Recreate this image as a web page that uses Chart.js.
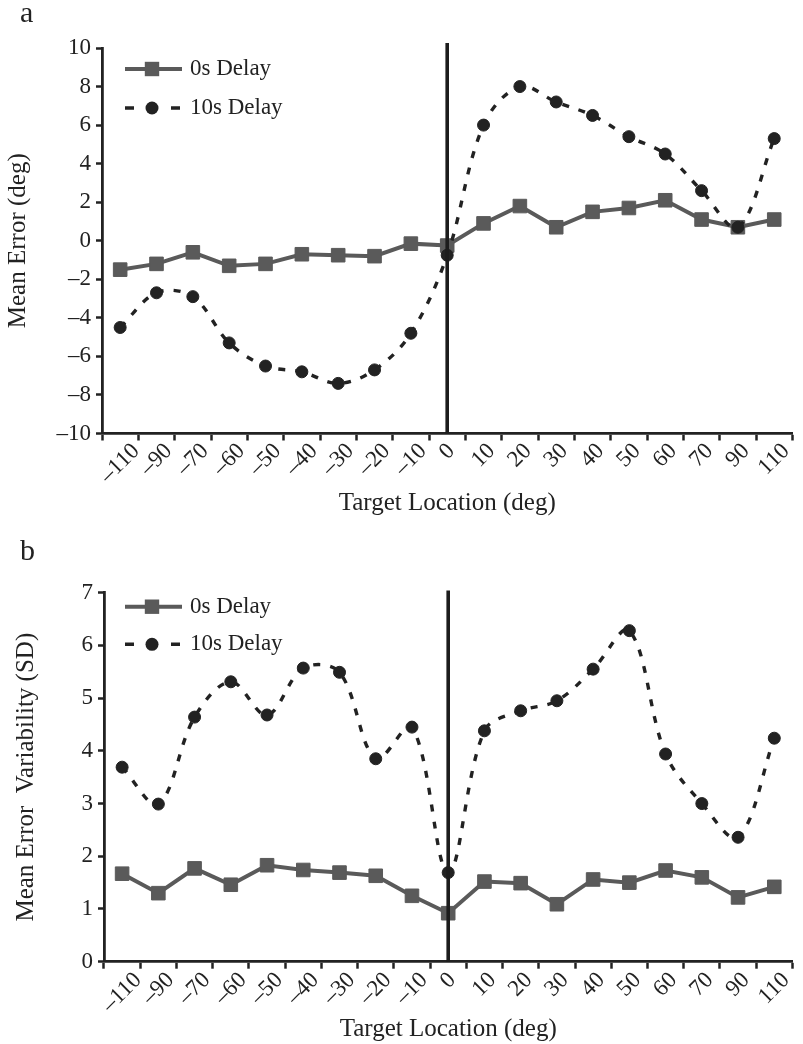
<!DOCTYPE html>
<html><head><meta charset="utf-8">
<script src="https://cdn.jsdelivr.net/npm/chart.js@4.4.1/dist/chart.umd.min.js"></script>
<style>
html,body{margin:0;padding:0;background:#fff;}
#wrap{position:relative;width:803px;height:1044px;overflow:hidden;background:#fff;}
canvas{position:absolute;left:0;}
</style></head>
<body><div id="wrap">
<canvas id="c1" width="803" height="520" style="top:0"></canvas>
<canvas id="c2" width="803" height="524" style="top:520px"></canvas>
</div>
<script>
// ---------- data ----------
const categories = ['–110','–90','–70','–60','–50','–40','–30','–20','–10','0','10','20','30','40','50','60','70','90','110'];
const seriesNames = ['0s Delay', '10s Delay'];
// Panel a: Mean Error (deg)
const errDelay0  = [-1.5, -1.2, -0.6, -1.3, -1.2, -0.7, -0.75, -0.8, -0.15, -0.25, 0.9, 1.8, 0.7, 1.5, 1.7, 2.1, 1.1, 0.7, 1.1];
const errDelay10 = [-4.5, -2.7, -2.9, -5.3, -6.5, -6.8, -7.4, -6.7, -4.8, -0.75, 6.0, 8.0, 7.2, 6.5, 5.4, 4.5, 2.6, 0.7, 5.3];
const errTicks = [-10, -8, -6, -4, -2, 0, 2, 4, 6, 8, 10];
// Panel b: Mean Error Variability (SD)
const sdDelay0  = [1.67, 1.3, 1.77, 1.46, 1.83, 1.74, 1.69, 1.63, 1.25, 0.92, 1.52, 1.49, 1.09, 1.56, 1.5, 1.73, 1.6, 1.22, 1.42];
const sdDelay10 = [3.69, 2.99, 4.64, 5.31, 4.68, 5.57, 5.49, 3.85, 4.45, 1.69, 4.38, 4.76, 4.95, 5.55, 6.28, 3.94, 3.0, 2.36, 4.24];
const sdTicks = [0, 1, 2, 3, 4, 5, 6, 7];
// vertical reference line at target location 0
const refCategory = '0';
const errRefLine = [-10, 10.26];
const sdRefLine = [0, 7.04];

const FONT = '"Liberation Serif", "Times New Roman", serif';
const INK = '#222222';
const GRAY = '#5a5a5a';

function fmt(v){ return v < 0 ? '–' + Math.abs(v) : String(v); }

const panelPlugin = {
  id: 'panelDecor',
  afterDraw(chart, args, o) {
    const ctx = chart.ctx;
    const xs = chart.scales.x;
    const area = chart.chartArea;
    ctx.save();
    // rotated category labels, centered on each category
    ctx.fillStyle = INK;
    ctx.font = '23px ' + FONT;
    ctx.textAlign = 'center';
    ctx.textBaseline = 'middle';
    chart.data.labels.forEach((lab, i) => {
      const x = xs.getPixelForValue(i);
      const w = ctx.measureText(lab).width;
      const y = area.bottom + o.labelGap + w * 0.3536;
      ctx.save();
      ctx.translate(x, y);
      ctx.rotate(-Math.PI / 4);
      ctx.fillText(lab, 0, 0);
      ctx.restore();
    });
    // panel letter
    ctx.font = '30px ' + FONT;
    ctx.textAlign = 'left';
    ctx.textBaseline = 'alphabetic';
    ctx.fillText(o.letter, 20, o.letterY);
    // legend
    const ds0 = chart.data.datasets[2];
    const ds1 = chart.data.datasets[1];
    const y0 = o.legendY[0], y1 = o.legendY[1];
    ctx.setLineDash([]);
    ctx.strokeStyle = ds0.borderColor; ctx.lineWidth = ds0.borderWidth;
    ctx.beginPath(); ctx.moveTo(125, y0); ctx.lineTo(182, y0); ctx.stroke();
    ctx.fillStyle = ds0.pointBackgroundColor;
    ctx.fillRect(152 - 7.2, y0 - 7.2, 14.4, 14.4);
    ctx.strokeStyle = ds1.borderColor; ctx.lineWidth = ds1.borderWidth;
    ctx.beginPath(); ctx.moveTo(125, y1); ctx.lineTo(134, y1); ctx.moveTo(171, y1); ctx.lineTo(180, y1); ctx.stroke();
    ctx.fillStyle = ds1.pointBackgroundColor;
    ctx.beginPath(); ctx.arc(152, y1, 6.5, 0, Math.PI * 2); ctx.fill();
    ctx.fillStyle = INK;
    ctx.font = '23px ' + FONT;
    ctx.textBaseline = 'middle';
    ctx.fillText(ds0.label, 190, y0);
    ctx.fillText(ds1.label, 190, y1);
    ctx.restore();
  }
};

function makeChart(id, c) {
  return new Chart(document.getElementById(id), {
    type: 'line',
    data: {
      labels: categories,
      datasets: [
        { label: 'ref', data: c.ref.map(v => ({ x: refCategory, y: v })), borderColor: '#1c1c1c', borderWidth: 3.6,
          pointRadius: 0, tension: 0, clip: false, fill: false },
        { label: seriesNames[1], data: c.d10, borderColor: INK, borderWidth: 3.4, borderDash: [7, 10],
          pointStyle: 'circle', pointRadius: 6, pointBackgroundColor: INK, pointBorderColor: INK, pointBorderWidth: 1,
          tension: 0.35, fill: false },
        { label: seriesNames[0], data: c.d0, borderColor: GRAY, borderWidth: 4,
          pointStyle: 'rect', pointRadius: 9.6, pointBackgroundColor: GRAY, pointBorderColor: GRAY, pointBorderWidth: 1,
          tension: 0, fill: false }
      ]
    },
    options: {
      responsive: false, animation: false, devicePixelRatio: 1,
      layout: { padding: { top: c.top, left: 0, right: 0, bottom: 0 } },
      plugins: { legend: { display: false }, tooltip: { enabled: false }, panelDecor: c.decor },
      scales: {
        x: {
          type: 'category', offset: true,
          grid: { offset: true, drawOnChartArea: false, drawTicks: true, tickLength: 7, tickWidth: 2.5, tickColor: INK },
          border: { display: true, color: INK, width: 2.8 },
          ticks: { display: false },
          title: { display: true, text: 'Target Location (deg)', color: INK, font: { family: FONT, size: 25 },
                   padding: { top: 0, bottom: c.xTitlePad } },
          afterFit: s => { s.height = c.xH; }
        },
        y: {
          min: c.ticks[0], max: c.ticks[c.ticks.length - 1],
          afterBuildTicks: s => { s.ticks = c.ticks.map(v => ({ value: v })); },
          ticks: { callback: v => fmt(v), color: INK, font: { family: FONT, size: 23 }, padding: 5 },
          grid: { drawOnChartArea: false, drawTicks: true, tickLength: 6, tickWidth: 2.5, tickColor: INK },
          border: { display: true, color: INK, width: 2.8 },
          title: { display: true, text: c.yTitle, color: INK, font: { family: FONT, size: 25 },
                   padding: { top: c.yTitlePad, bottom: 0 } },
          afterFit: s => { s.width = c.yW; }
        }
      }
    },
    plugins: [panelPlugin]
  });
}

makeChart('c1', {
  d0: errDelay0, d10: errDelay10, ticks: errTicks, ref: errRefLine,
  top: 48, xH: 86.5, yW: 102, xTitlePad: 2, yTitlePad: 3.5,
  yTitle: 'Mean Error (deg)',
  decor: { letter: 'a', letterY: 22, legendY: [69, 108], labelGap: 14 }
});
makeChart('c2', {
  d0: sdDelay0, d10: sdDelay10, ticks: sdTicks, ref: sdRefLine,
  top: 72.7, xH: 82.3, yW: 104, xTitlePad: 0, yTitlePad: 11.5,
  yTitle: 'Mean Error  Variability (SD)',
  decor: { letter: 'b', letterY: 40, legendY: [86.7, 124.3], labelGap: 15 }
});
</script>
</body></html>
